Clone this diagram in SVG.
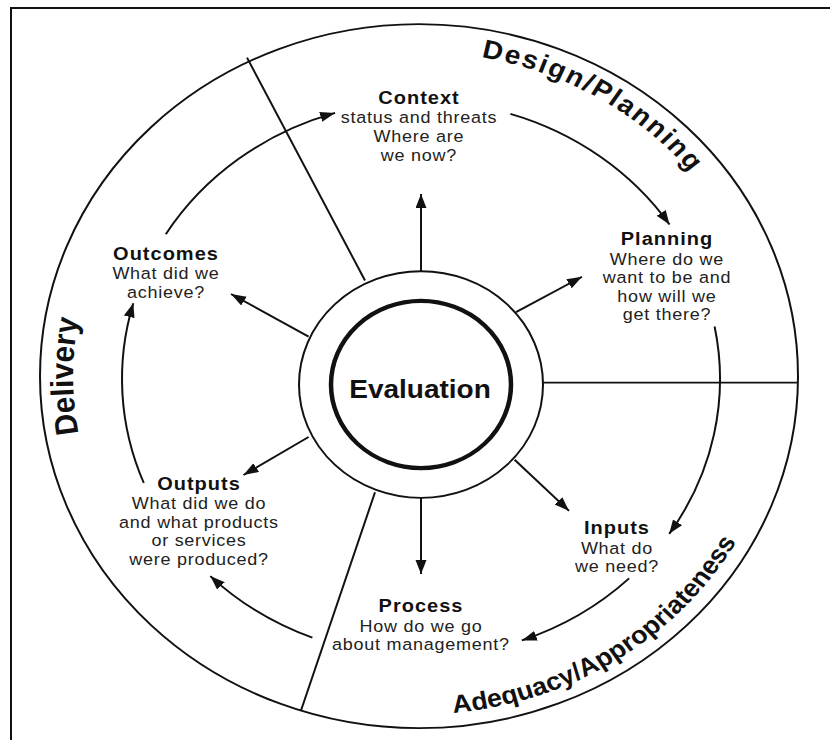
<svg xmlns="http://www.w3.org/2000/svg" width="830" height="740" viewBox="0 0 830 740">
<style>
.ln{fill:none;stroke:#111;stroke-width:2}
.ar{fill:none;stroke:#111;stroke-width:2;marker-end:url(#ah)}
.h{font-family:"Liberation Sans",Arial,sans-serif;font-weight:bold;font-size:20px;letter-spacing:1px;fill:#111;text-anchor:middle}
.t{font-family:"Liberation Sans",Arial,sans-serif;font-size:18px;letter-spacing:0.75px;fill:#222;text-anchor:middle}
.big{font-family:"Liberation Sans",Arial,sans-serif;font-weight:bold;fill:#111}
</style>
<defs>
<marker id="ah" markerUnits="userSpaceOnUse" markerWidth="16" markerHeight="12" refX="15" refY="5.5" orient="auto"><path d="M0,0 L15,5.5 L0,11 Z" fill="#111"/></marker>
<path id="pDesign" d="M481.4 61.6 A349 349 0 0 1 762.7 344.4"/>
<path id="pAdequacy" d="M453.3 767.4 A364 364 0 0 0 777.5 468.2"/>
<path id="pDelivery" d="M119.4 578 A346 346 0 0 1 119.4 232"/>
</defs>
<rect width="830" height="740" fill="#fff"/>
<path d="M11 740 V8 H830" class="ln"/>
<g transform="matrix(1 0 0 0.9288 0 0)">
  <g id="wheel">
    <circle cx="419" cy="405" r="379" class="ln"/>
    <path d="M365 302 L247 62" class="ln"/>
    <path d="M543 412 L798 412" class="ln"/>
    <path d="M375 530 L301 765" class="ln"/>
  </g>
  <g id="sector-labels">
    <text class="big" font-size="28" letter-spacing="2"><textPath href="#pDesign">Design/Planning</textPath></text>
    <text class="big" font-size="27"><textPath href="#pAdequacy">Adequacy/Appropriateness</textPath></text>
    <text class="big" font-size="32" text-anchor="middle"><textPath href="#pDelivery" startOffset="50%">Delivery</textPath></text>
  </g>
  <g id="evaluation">
    <circle cx="421" cy="414" r="122" class="ln"/>
    <circle cx="421" cy="414" r="90" fill="none" stroke="#111" stroke-width="4.5"/>
    <text x="420" y="429" class="big" font-size="28" text-anchor="middle">Evaluation</text>
  </g>
  <g id="connectors">
    <path class="ar" d="M421 292 L421 209"/>
    <path class="ar" d="M516 336 L582 298"/>
    <path class="ar" d="M514.6 495 L569 550"/>
    <path class="ar" d="M421 536 L421 618"/>
    <path class="ar" d="M308.6 470.5 L243.5 511.4"/>
    <path class="ar" d="M308.6 362.4 L231 316.5"/>
    <path class="ar" d="M165.8 252.2 A299 299 0 0 1 335.1 121.6"/>
    <path class="ar" d="M510.4 122.7 A299 299 0 0 1 669.5 241.7"/>
    <path class="ar" d="M714.6 351.5 A299 299 0 0 1 669.2 574.8"/>
    <path class="ar" d="M629.1 622.7 A299 299 0 0 1 521.8 689.5"/>
    <path class="ar" d="M312.4 686.6 A299 299 0 0 1 210.3 620.2"/>
    <path class="ar" d="M143.8 520 A299 299 0 0 1 133.3 326.6"/>
  </g>
  <g id="context">
    <text x="419" y="112" class="h">Context</text>
    <text x="419" y="132.4" class="t">status and threats</text>
    <text x="419" y="152.9" class="t">Where are</text>
    <text x="419" y="173.3" class="t">we now?</text>
  </g>
  <g id="planning">
    <text x="667" y="263.8" class="h">Planning</text>
    <text x="667" y="285.3" class="t">Where do we</text>
    <text x="667" y="304.7" class="t">want to be and</text>
    <text x="667" y="325.2" class="t">how will we</text>
    <text x="667" y="344.5" class="t">get there?</text>
  </g>
  <g id="inputs">
    <text x="617" y="575" class="h">Inputs</text>
    <text x="617" y="596" class="t">What do</text>
    <text x="617" y="615.8" class="t">we need?</text>
  </g>
  <g id="process">
    <text x="421" y="658.6" class="h">Process</text>
    <text x="421" y="680" class="t">How do we go</text>
    <text x="421" y="699.8" class="t">about management?</text>
  </g>
  <g id="outputs">
    <text x="199" y="527.6" class="h">Outputs</text>
    <text x="199" y="547.6" class="t">What did we do</text>
    <text x="199" y="568" class="t">and what products</text>
    <text x="199" y="587.9" class="t">or services</text>
    <text x="199" y="608.3" class="t">were produced?</text>
  </g>
  <g id="outcomes">
    <text x="166" y="280" class="h">Outcomes</text>
    <text x="166" y="300.4" class="t">What did we</text>
    <text x="166" y="320.8" class="t">achieve?</text>
  </g>
</g>
</svg>
